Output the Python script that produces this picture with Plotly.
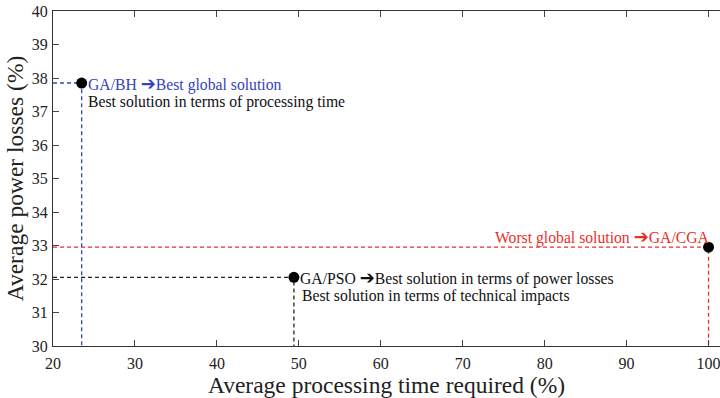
import plotly.graph_objects as go

methods = ["GA/BH", "GA/PSO", "GA/CGA"]
time_req = [23.5, 49.4, 100.0]
power_loss = [37.85, 32.05, 32.95]
line_colors = ["#3344bb", "#222222", "#e8302a"]

x_ticks = [20, 30, 40, 50, 60, 70, 80, 90, 100]
y_ticks = [30, 31, 32, 33, 34, 35, 36, 37, 38, 39, 40]

FONT = "Liberation Serif, Times New Roman, serif"
fig = go.Figure()

for m, x, y, c in zip(methods, time_req, power_loss, line_colors):
    fig.add_trace(go.Scatter(x=[20, x, x], y=[y, y, 30], mode="lines",
                             line=dict(color=c, width=1.3, dash="4px,3px"),
                             showlegend=False, hoverinfo="skip", cliponaxis=False))

fig.add_trace(go.Scatter(x=time_req, y=power_loss, mode="markers",
                         marker=dict(color="black", size=11),
                         showlegend=False, text=methods, cliponaxis=False))

arrow = "<span style='font-family:DejaVu Sans;font-size:18px'>➔</span>"
anns = [
    dict(x=time_req[0], y=power_loss[0], xanchor="left", xshift=4, yshift=0,
         text=f"GA/BH {arrow}Best global solution", font=dict(color=line_colors[0])),
    dict(x=time_req[0], y=power_loss[0], xanchor="left", xshift=4, yshift=-19,
         text="Best solution in terms of processing time", font=dict(color="#111111")),
    dict(x=time_req[1], y=power_loss[1], xanchor="left", xshift=4, yshift=0,
         text=f"GA/PSO {arrow}Best solution in terms of power losses", font=dict(color="#111111")),
    dict(x=time_req[1], y=power_loss[1], xanchor="left", xshift=6, yshift=-19,
         text="Best solution in terms of technical impacts", font=dict(color="#111111")),
    dict(x=time_req[2], y=power_loss[2], xanchor="right", xshift=3, yshift=11,
         text=f"Worst global solution {arrow}GA/CGA", font=dict(color=line_colors[2])),
]
for a in anns:
    a["font"]["family"] = FONT
    a["font"]["size"] = 15.7
    fig.add_annotation(showarrow=False, yanchor="middle", **a)

fig.update_layout(
    width=720, height=398,
    margin=dict(l=53, r=0, t=11, b=52),
    paper_bgcolor="white", plot_bgcolor="white",
    font=dict(family=FONT, size=16, color="#222222"),
)
fig.update_xaxes(range=[20, 101.4], tickvals=x_ticks, ticks="inside", ticklen=6,
                 showline=True, linecolor="#333333", linewidth=1.2, mirror="ticks",
                 showgrid=False, zeroline=False, automargin=False,
                 ticklabeloverflow="allow", ticklabelstandoff=3,
                 title=dict(text="Average processing time required (%)", font=dict(size=23.5), standoff=2))
fig.update_yaxes(range=[30, 40], tickvals=y_ticks, ticks="inside", ticklen=6,
                 showline=True, linecolor="#333333", linewidth=1.2, mirror=False,
                 showgrid=False, zeroline=False, automargin=False,
                 ticklabeloverflow="allow", ticklabelstandoff=1,
                 title=dict(text="Average power losses (%)", font=dict(size=23.5), standoff=1))

fig.write_html("out.html", config={"displayModeBar": False},
               post_script="document.body.style.margin='0';")
